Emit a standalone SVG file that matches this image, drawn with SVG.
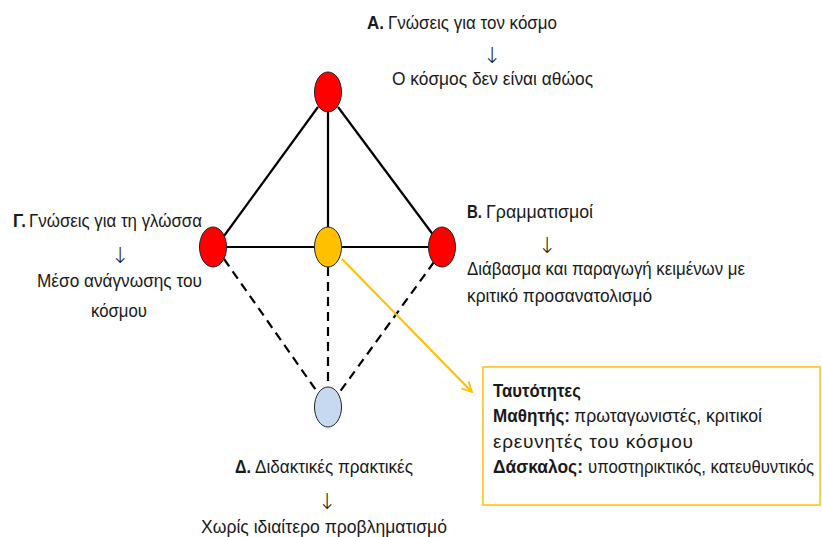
<svg xmlns="http://www.w3.org/2000/svg" width="822" height="537" viewBox="0 0 822 537">
<defs>
<style>
.t{font-family:"Liberation Sans",Arial,sans-serif;font-size:19px;fill:#1a1a1a}
.b{font-weight:bold}
.ar{font-family:"DejaVu Sans",sans-serif;font-size:22px;font-weight:200;fill:#1a1a1a}
.solid{stroke:#000;stroke-width:2.2;fill:none}
.dash{stroke:#000;stroke-width:2.2;fill:none;stroke-dasharray:9 6}
.node{stroke:#222;stroke-width:1}
</style>
<marker id="ah" viewBox="0 0 12 12" refX="11" refY="6" markerWidth="12" markerHeight="12" markerUnits="userSpaceOnUse" orient="auto">
<path d="M1,1 L11,6 L1,11" fill="none" stroke="#FFC000" stroke-width="1.8"/>
</marker>
</defs>
<rect width="822" height="537" fill="#fff"/>
<g id="connectors">
<line class="solid" x1="318" y1="107" x2="224" y2="236"/>
<line class="solid" x1="338" y1="107" x2="434" y2="236"/>
<line class="solid" x1="328" y1="112" x2="328" y2="227"/>
<line class="solid" x1="227" y1="247" x2="314" y2="247"/>
<line class="solid" x1="342" y1="247" x2="428" y2="247"/>
<line class="dash" x1="224" y1="259" x2="318" y2="393"/>
<line class="dash" x1="328" y1="267" x2="328" y2="387"/>
<line class="dash" x1="434" y1="262" x2="339" y2="393"/>
<line x1="342" y1="259" x2="472" y2="392" stroke="#FFC000" stroke-width="2" marker-end="url(#ah)"/>
</g>
<g id="node-A">
<ellipse class="node" cx="328" cy="92" rx="13.5" ry="20" fill="#FF0000"/>
<text class="t b" x="367" y="29" textLength="17" lengthAdjust="spacingAndGlyphs">Α.</text>
<text class="t" x="388" y="29" textLength="169" lengthAdjust="spacingAndGlyphs">Γνώσεις για τον κόσμο</text>
<text class="ar" x="492" y="63" text-anchor="middle">↓</text>
<text class="t" x="392" y="85" textLength="201" lengthAdjust="spacingAndGlyphs">Ο κόσμος δεν είναι αθώος</text>
</g>
<g id="node-G">
<ellipse class="node" cx="213" cy="247" rx="13.5" ry="20" fill="#FF0000"/>
<text class="t b" x="13" y="227" textLength="13" lengthAdjust="spacingAndGlyphs">Γ.</text>
<text class="t" x="29" y="227" textLength="173" lengthAdjust="spacingAndGlyphs">Γνώσεις για τη γλώσσα</text>
<text class="ar" x="120" y="263" text-anchor="middle">↓</text>
<text class="t" x="37" y="287" textLength="165" lengthAdjust="spacingAndGlyphs">Μέσο ανάγνωσης του</text>
<text class="t" x="91" y="317" textLength="56" lengthAdjust="spacingAndGlyphs">κόσμου</text>
</g>
<g id="node-center">
<ellipse class="node" cx="328" cy="247" rx="13.5" ry="20" fill="#FFC000"/>
</g>
<g id="node-B">
<ellipse class="node" cx="442" cy="247" rx="13.5" ry="20" fill="#FF0000"/>
<text class="t b" x="467" y="218" textLength="15" lengthAdjust="spacingAndGlyphs">Β.</text>
<text class="t" x="486" y="218" textLength="107" lengthAdjust="spacingAndGlyphs">Γραμματισμοί</text>
<text class="ar" x="547" y="253" text-anchor="middle">↓</text>
<text class="t" x="467" y="275" textLength="278" lengthAdjust="spacingAndGlyphs">Διάβασμα και παραγωγή κειμένων με</text>
<text class="t" x="467" y="302" textLength="185" lengthAdjust="spacingAndGlyphs">κριτικό προσανατολισμό</text>
</g>
<g id="node-D">
<ellipse class="node" cx="328" cy="407" rx="13.5" ry="20" fill="#C6D9F1"/>
<text class="t b" x="235" y="473" textLength="16" lengthAdjust="spacingAndGlyphs">Δ.</text>
<text class="t" x="255" y="473" textLength="158" lengthAdjust="spacingAndGlyphs">Διδακτικές πρακτικές</text>
<text class="ar" x="327" y="509" text-anchor="middle">↓</text>
<text class="t" x="201" y="533" textLength="246" lengthAdjust="spacingAndGlyphs">Χωρίς ιδιαίτερο προβληματισμό</text>
</g>
<g id="node-identities">
<rect x="483" y="367" width="337" height="138" fill="#fff" stroke="#FFC000" stroke-width="1.5"/>
<text class="t b" x="493" y="397" textLength="88" lengthAdjust="spacingAndGlyphs">Ταυτότητες</text>
<text class="t b" x="493" y="422" textLength="77" lengthAdjust="spacingAndGlyphs">Μαθητής:</text>
<text class="t" x="574" y="422" textLength="188" lengthAdjust="spacingAndGlyphs">πρωταγωνιστές, κριτικοί</text>
<text class="t" x="493" y="448" textLength="200" lengthAdjust="spacing">ερευνητές του κόσμου</text>
<text class="t b" x="493" y="473" textLength="90" lengthAdjust="spacingAndGlyphs">Δάσκαλος:</text>
<text class="t" x="588" y="473" textLength="226" lengthAdjust="spacingAndGlyphs">υποστηρικτικός, κατευθυντικός</text>
</g>
</svg>
